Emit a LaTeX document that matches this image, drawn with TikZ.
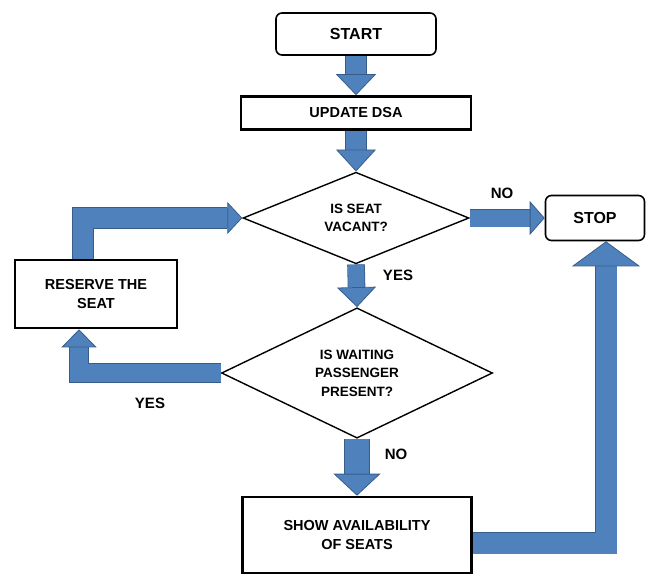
\documentclass[tikz,border=0pt]{standalone}
\usepackage{fontspec}
\setmainfont{Liberation Sans}
\usetikzlibrary{arrows.meta}
\usetikzlibrary{shapes.geometric}
\usetikzlibrary{positioning}
\definecolor{arrowblue}{RGB}{79,129,189}
\definecolor{arrowedge}{RGB}{56,93,138}

\begin{document}
\begin{tikzpicture}[x=1pt,y=-1pt]
\tikzstyle{term node}=[rectangle,rounded corners=6pt,draw,line width=1.6pt,font=\fontsize{16}{19}\selectfont\bfseries]
\tikzstyle{proc node}=[rectangle,draw,line width=2.6pt,align=center,font=\fontsize{14.5}{19}\selectfont\bfseries]
\tikzstyle{dec node}=[diamond,draw,line width=1.4pt,inner sep=0,align=center,font=\fontsize{13.5}{18.5}\selectfont\bfseries]
\tikzstyle{lbl node}=[font=\fontsize{15}{18}\selectfont\bfseries]
\tikzset{
  blk/.style n args={3}{draw=arrowblue,line width=#1,
    -{Triangle[length=#3,width=#2,line width=0.8pt,color=arrowedge,fill=arrowblue]},
    preaction={draw=arrowedge,line width=#1+1.6pt,shorten >=#3,-}}
}
\useasboundingbox (0,0) rectangle (650,575);

    \node[term node,minimum width=160pt,minimum height=42pt] (start) at (356,34) {START};
    \node[proc node,minimum width=230pt,minimum height=33pt] (dsa) at (356,113) {UPDATE DSA};
    \node[dec node,minimum width=226pt,minimum height=84pt] (vacant) at (356,218) {IS SEAT\\VACANT?};
    \node[term node,minimum width=99pt,minimum height=45pt] (stop) at (595,218) {STOP};
    \node[proc node,minimum width=162pt,minimum height=68pt] (reserve) at (96,294) {RESERVE THE\\SEAT};
    \node[dec node,minimum width=271pt,minimum height=120pt] (waiting) at (357,373) {IS WAITING\\PASSENGER\\PRESENT?};
    \node[proc node,minimum width=229pt,minimum height=76pt] (avail) at (357,535) {SHOW AVAILABILITY\\OF SEATS};

    %%%%%%%%%%%%%%%%%%%%%%%%%%
    \node[lbl node] (novac) at (502,193) {NO};
    \node[lbl node] (yesvac) at (398,275) {YES};
    \node[lbl node] (yeswait) at (150,403) {YES};
    \node[lbl node] (nowait) at (396,454) {NO};

    \path
        (start.south) edge[blk={20pt}{40pt}{21pt}] (dsa.north)
        (dsa.south) edge[blk={20pt}{40pt}{22pt}] (vacant.north)
        (vacant.south) edge[blk={16pt}{39pt}{20pt}] (waiting.north)
        (waiting.south) edge[blk={24pt}{47pt}{22pt}] (avail.north)
        (vacant.east) edge[blk={17pt}{34pt}{15pt}] (stop.west)
        %%%%%%%%%%%%%%%%%%%%%%%%%%
        ([xshift=-13pt]reserve.north) edge[blk={20pt}{32pt}{15pt},to path={|- (\tikztotarget)}] (vacant.west)
        (waiting.west) edge[blk={18pt}{35pt}{18pt},to path={-| (\tikztotarget)}] ([xshift=-17pt]reserve.south)
        ([yshift=-8pt]avail.east) edge[blk={21pt}{68pt}{25pt},to path={-| (\tikztotarget)}] ([xshift=11pt]stop.south)
;
\end{tikzpicture}
\end{document}
